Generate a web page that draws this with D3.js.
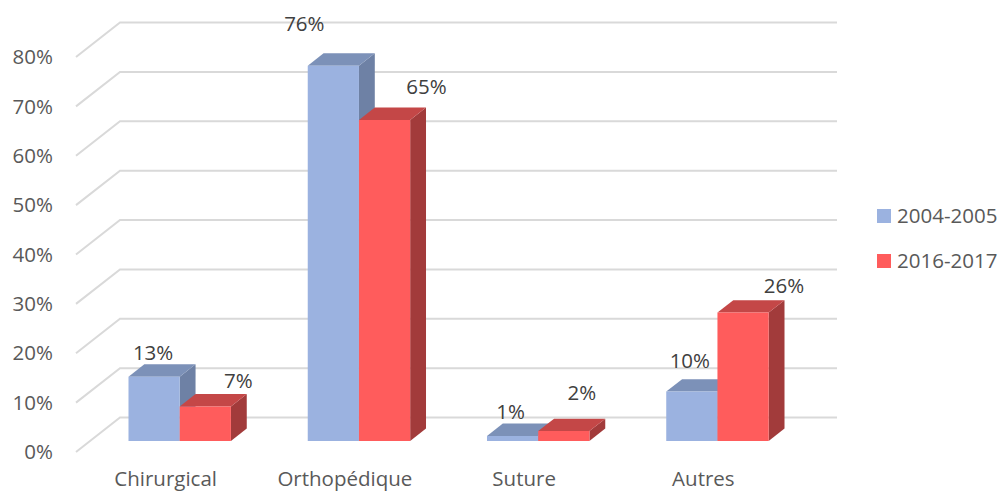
<!DOCTYPE html>
<html lang="fr">
<head>
  <meta charset="UTF-8">
  <title>Répartition</title>
  <script src="https://d3js.org/d3.v7.min.js"></script>
  <style>
    body { margin: 0; background: #fff; }
    svg { display: block; font-family: "Open Sans", sans-serif; }
    .tick-label { font-size: 20.5px; fill: #595959; }
    .data-label { font-size: 20.5px; fill: #404040; }
  </style>
</head>
<body>
<svg id="chart" width="1002" height="492"></svg>
<script>
const categories = ["Chirurgical", "Orthopédique", "Suture", "Autres"];
const seriesNames = ["2004-2005", "2016-2017"];
const values2004 = [13, 76, 1, 10];
const values2016 = [7, 65, 2, 26];
const yTicks = [0, 10, 20, 30, 40, 50, 60, 70, 80];

// label nudges (Excel puts 3D labels a bit everywhere)
const labelNudge2004 = [[-1, -24], [-29, -42], [-2, -24], [-2, -31]];
const labelNudge2016 = [[33, -26], [42, -33], [18, -38], [41, -27]];

const colors = [
  {front: "#9bb2e0", top: "#7c91b8", side: "#6e81a5"},
  {front: "#ff5c5c", top: "#c44747", side: "#a23b3b"}
];

const svg = d3.select("#chart");

// oblique projection: depth 0 = front edge of floor, 1 = back wall
const depthX = 44, depthY = -34.5;
const proj = (x, y, d) => [x + d * depthX, y + d * depthY];

const x = d3.scaleBand().domain(categories).range([76, 793]);
const y = d3.scaleLinear().domain([0, 80]).range([452, 57]);
const xs = d3.scaleBand().domain(seriesNames).range([0, x.bandwidth()]).paddingOuter(0.75).paddingInner(0);

// grid: floor diagonal + back wall line
const grid = svg.append("g");
yTicks.forEach(t => {
  const a = proj(x.range()[0], y(t), 0);
  const b = proj(x.range()[0], y(t), 1);
  const c = proj(x.range()[1], y(t), 1);
  grid.append("polyline")
    .attr("points", [a, b, c].map(p => p.join(",")).join(" "))
    .attr("fill", "none")
    .attr("stroke", "#d9d9d9")
    .attr("stroke-width", 2);
});

svg.append("g").selectAll("text")
  .data(yTicks)
  .join("text")
  .attr("class", "tick-label")
  .attr("x", 53)
  .attr("y", d => y(d))
  .attr("dy", "0.35em")
  .attr("text-anchor", "end")
  .text(d => d + "%");

svg.append("g").selectAll("text")
  .data(categories)
  .join("text")
  .attr("class", "tick-label")
  .attr("x", d => x(d) + x.bandwidth() / 2)
  .attr("y", 479)
  .attr("dy", "0.35em")
  .attr("text-anchor", "middle")
  .text(d => d);

// bars
const d0 = 0.32, d1 = 0.68;
const bars = svg.append("g");
const labels = svg.append("g");
const allSeries = [values2004, values2016];
const nudges = [labelNudge2004, labelNudge2016];

categories.forEach((cat, i) => {
  allSeries.forEach((vals, s) => {
    const v = vals[i];
    const x0 = x(cat) + xs(seriesNames[s]);
    const x1 = x0 + xs.bandwidth();
    const f = (px, py, d) => proj(px, py, d).join(",");
    const yTop = y(v), yBase = y(0);
    const col = colors[s];

    // right side
    bars.append("polygon")
      .attr("points", [f(x1, yBase, d0), f(x1, yBase, d1), f(x1, yTop, d1), f(x1, yTop, d0)].join(" "))
      .attr("fill", col.side);
    // top
    bars.append("polygon")
      .attr("points", [f(x0, yTop, d0), f(x0, yTop, d1), f(x1, yTop, d1), f(x1, yTop, d0)].join(" "))
      .attr("fill", col.top);
    // front
    bars.append("polygon")
      .attr("points", [f(x0, yBase, d0), f(x1, yBase, d0), f(x1, yTop, d0), f(x0, yTop, d0)].join(" "))
      .attr("fill", col.front);

    const c = proj((x0 + x1) / 2, yTop, d0);
    labels.append("text")
      .attr("class", "data-label")
      .attr("x", c[0] + nudges[s][i][0])
      .attr("y", c[1] + nudges[s][i][1])
      .attr("dy", "0.35em")
      .attr("text-anchor", "middle")
      .text(v + "%");
  });
});

// legend
const legend = svg.append("g").attr("transform", "translate(877,209)");
seriesNames.forEach((name, s) => {
  const g = legend.append("g").attr("transform", `translate(0,${s * 45})`);
  g.append("rect").attr("width", 14).attr("height", 14).attr("fill", colors[s].front);
  g.append("text")
    .attr("class", "tick-label")
    .attr("x", 20)
    .attr("y", 7)
    .attr("dy", "0.35em")
    .text(name);
});
</script>
</body>
</html>
